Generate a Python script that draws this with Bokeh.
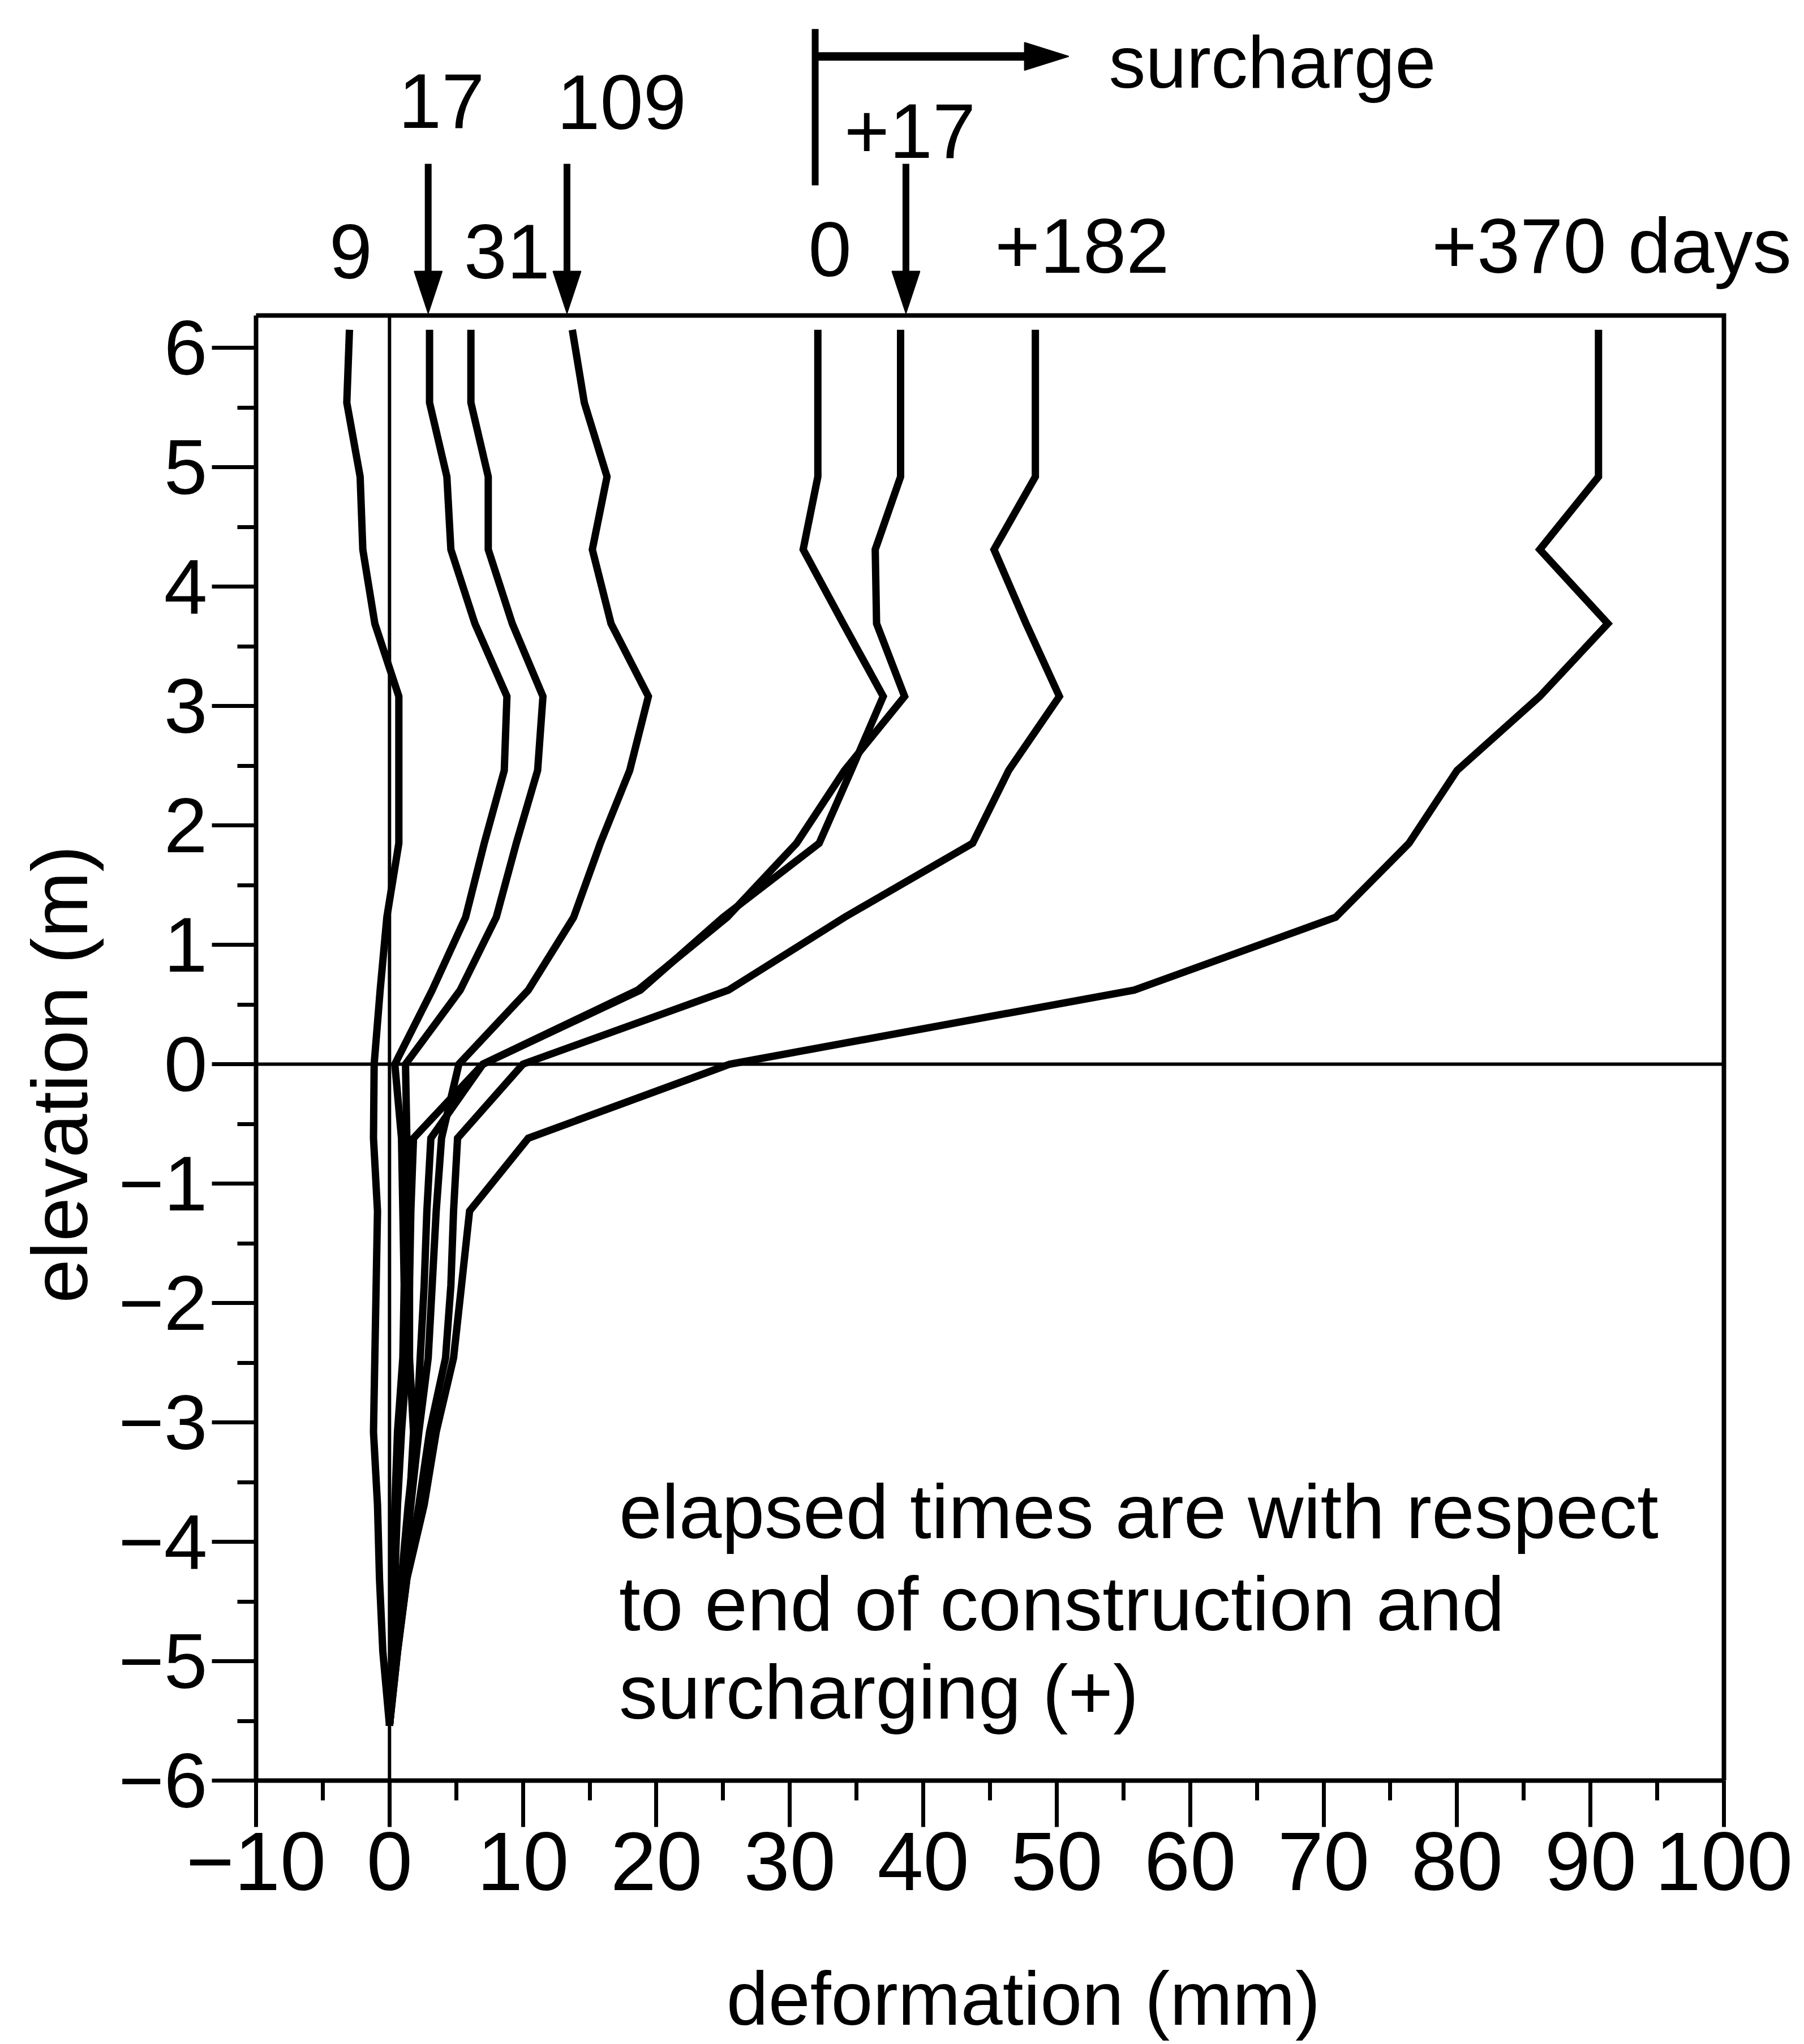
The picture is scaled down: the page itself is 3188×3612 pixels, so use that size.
import math
from bokeh.plotting import figure
from bokeh.layouts import column, row
from bokeh.models import Range1d, FixedTicker, Label
from bokeh.embed import file_html
from bokeh.resources import INLINE

FONT = "Liberation Sans"

# elevation of inclinometer readings (m)
elevation = [6.15, 5.54, 4.92, 4.31, 3.69, 3.08, 2.46, 1.85, 1.23, 0.62, 0.0,
             -0.62, -1.23, -1.85, -2.46, -3.08, -3.69, -4.31, -4.92, -5.54]

# deformation (mm) per elapsed time
def_9 = [-3.0, -3.2, -2.2, -2.0, -1.1, 0.7, 0.7, 0.7, -0.2, -0.7, -1.15,
         -1.2, -0.9, -1.0, -1.1, -1.2, -0.9, -0.75, -0.5, 0.0]
def_17 = [3.0, 3.0, 4.3, 4.6, 6.4, 8.8, 8.6, 7.1, 5.7, 3.2, 0.4,
          0.9, 1.0, 1.1, 1.0, 0.6, 0.4, 0.3, 0.2, 0.0]
def_31 = [6.1, 6.1, 7.4, 7.4, 9.2, 11.5, 11.1, 9.5, 8.0, 5.3, 1.2,
          1.3, 1.4, 1.5, 1.3, 0.9, 0.6, 0.4, 0.2, 0.0]
def_109 = [13.7, 14.6, 16.3, 15.2, 16.6, 19.4, 18.0, 15.8, 13.8, 10.4, 5.2,
           3.9, 3.5, 3.2, 2.9, 2.2, 1.6, 1.0, 0.5, 0.0]
def_s0 = [32.1, 32.1, 32.1, 31.0, 34.0, 37.0, 34.6, 32.2, 25.0, 18.8, 7.0,
          1.8, 1.6, 1.5, 1.5, 1.8, 1.5, 1.0, 0.5, 0.0]
def_s17 = [38.3, 38.3, 38.3, 36.4, 36.5, 38.6, 34.1, 30.5, 25.3, 18.6, 7.0,
           3.1, 2.8, 2.6, 2.3, 2.0, 1.4, 0.9, 0.4, 0.0]
def_s182 = [48.4, 48.4, 48.4, 45.3, 47.7, 50.2, 46.4, 43.7, 34.1, 25.4, 10.0,
            5.1, 4.8, 4.6, 4.2, 3.0, 2.2, 1.3, 0.6, 0.0]
def_s370 = [90.6, 90.6, 90.6, 86.2, 91.3, 86.2, 80.0, 76.4, 70.9, 55.8, 25.5,
            10.4, 6.0, 5.4, 4.8, 3.5, 2.6, 1.3, 0.6, 0.0]

series = [def_9, def_17, def_31, def_109, def_s0, def_s17, def_s182, def_s370]

# elapsed-time labels above the plot
time_labels = ["9", "17", "31", "109", "0", "+17", "+182", "+370 days"]
arrow_targets = [2.9, 13.3, 38.7]   # arrows pointing at the 17, 109 and +17 profiles

X_MIN, X_MAX = -10, 100
Y_MIN, Y_TOP = -6, 6.27
x_ticks = list(range(-10, 101, 10))
x_minor = list(range(-5, 100, 10))
y_ticks = list(range(-6, 7))
y_minor = [k + 0.5 for k in range(-6, 6)]

def fmt(v):
    return ("\u2212" + str(abs(v))) if v < 0 else str(v)

# page geometry (px)
W, H = 3188, 3612
FRAME_L, FRAME_R, FRAME_B = 452, 3046, 3146
PX_X = (FRAME_R - FRAME_L) / 110.0   # px per mm
PX_Y = 211.0                          # px per m
LEFT_W = 190
BOT_H = 186
MID_H = H - BOT_H
MAIN_BOTTOM = MID_H - FRAME_B
MID_FACTOR = 0.346   # label anchor sits this many ems above the baseline

def lab(fig, text, x, y, size, align="center", angle=0.0, scale=PX_Y):
    dy = MID_FACTOR * size / scale if angle == 0 else 0.0
    fig.add_layout(Label(x=x, y=y + dy, text=text, text_font=FONT,
                         text_font_size=f"{size}px", text_align=align,
                         text_baseline="alphabetic", text_color="black",
                         angle=angle))

def strip(width, height, xr, yr, bottom=0):
    f = figure(width=width, height=height, title=None, x_range=xr, y_range=yr,
               output_backend="svg", toolbar_location=None,
               min_border_left=0, min_border_right=0,
               min_border_top=0, min_border_bottom=bottom,
               x_axis_location=None, y_axis_location=None)
    f.outline_line_color = None
    f.xgrid.visible = False
    f.ygrid.visible = False
    f.background_fill_color = "white"
    f.border_fill_color = "white"
    return f

main_w = W - LEFT_W
frame_w = main_w - (FRAME_L - LEFT_W)
x_range = Range1d(X_MIN, X_MIN + frame_w / PX_X)
y_range = Range1d(Y_MIN, Y_MIN + FRAME_B / PX_Y)

# ---------------- main plot (frame reaches the page top; axes bounded) ----------------
p = figure(width=main_w, height=MID_H, title=None,
           x_range=x_range, y_range=y_range,
           output_backend="svg", toolbar_location=None,
           min_border_left=FRAME_L - LEFT_W, min_border_right=0,
           min_border_top=0, min_border_bottom=MAIN_BOTTOM)
p.xgrid.visible = False
p.ygrid.visible = False
p.background_fill_color = "white"
p.border_fill_color = "white"
p.outline_line_color = None

for ax, ticks, minor, out_major, out_minor, size, bounds in (
        (p.xaxis[0], x_ticks, x_minor, 82, 35, "146px", (X_MIN, X_MAX)),
        (p.yaxis[0], y_ticks, y_minor, 78, 33, "138px", (Y_MIN, Y_TOP))):
    ax.bounds = bounds
    ax.ticker = FixedTicker(ticks=ticks, minor_ticks=minor)
    ax.major_label_overrides = {t: fmt(t) for t in ticks}
    ax.major_tick_out = out_major
    ax.major_tick_in = 0
    ax.minor_tick_out = out_minor
    ax.minor_tick_in = 0
    ax.major_tick_line_width = 7
    ax.minor_tick_line_width = 7
    ax.major_tick_line_color = "black"
    ax.minor_tick_line_color = "black"
    ax.axis_line_width = 8
    ax.axis_line_color = "black"
    ax.major_label_text_font = FONT
    ax.major_label_text_font_size = size
    ax.major_label_text_color = "black"
p.xaxis.major_label_standoff = 10
p.yaxis.major_label_standoff = 8

# top and right edges of the plot box
ex, ey = 4 / PX_X, 4 / PX_Y
p.line([X_MIN - ex, X_MAX, X_MAX], [Y_TOP, Y_TOP, Y_MIN - ey],
       line_color="black", line_width=8, line_join="miter")

# reference lines at zero
p.line([0, 0], [Y_MIN, Y_TOP], line_color="black", line_width=6)
p.line([X_MIN, X_MAX], [0, 0], line_color="black", line_width=6)

for d in series:
    p.line(d, elevation, line_color="black", line_width=13, line_join="miter")

lab(p, "elapsed times are with respect", 17.2, -3.97, 136, align="left")
lab(p, "to end of construction and", 17.2, -4.74, 136, align="left")
lab(p, "surcharging (+)", 17.2, -5.48, 136, align="left")

# elapsed-time labels and arrows above the box
label_x = [-2.9, 3.9, 8.8, 17.4, 33.0, 39.0, 51.9, 78.1]
label_y = [6.58, 7.84, 6.58, 7.83, 6.60, 7.59, 6.63, 6.63]
for t, lx, ly in zip(time_labels, label_x, label_y):
    lab(p, t, lx, ly, 137, align="left" if t.endswith("days") else "center")
lab(p, "surcharge", 53.9, 8.18, 130, align="left")

tip = Y_TOP + 4 / PX_Y
head_len = 74 / PX_Y
head_half = 24.5 / PX_X
shaft_top = 7.54
p.segment(x0=arrow_targets, y0=[shaft_top] * 3, x1=arrow_targets,
          y1=[tip + head_len * 0.8] * 3, line_color="black", line_width=12)
p.patches(xs=[[x - head_half, x + head_half, x] for x in arrow_targets],
          ys=[[tip + head_len, tip + head_len, tip] for _ in arrow_targets],
          fill_color="black", line_color="black", line_width=2)

# surcharge bracket and arrow
sx, sy, send = 31.9, 8.44, 50.9
h_len = 78 / PX_X
h_half = 24.5 / PX_Y
p.segment(x0=[sx], y0=[7.36], x1=[sx], y1=[8.67], line_color="black", line_width=12)
p.segment(x0=[sx], y0=[sy], x1=[send - h_len * 0.8], y1=[sy], line_color="black", line_width=15)
p.patches(xs=[[send - h_len, send - h_len, send]], ys=[[sy + h_half, sy - h_half, sy]],
          fill_color="black", line_color="black", line_width=2)

# ---------------- left strip: y-axis title ----------------
left = strip(LEFT_W, MID_H, Range1d(0, LEFT_W), y_range, bottom=MAIN_BOTTOM)
lab(left, "elevation (m)", 153 - MID_FACTOR * 140, -0.085, 140, angle=math.pi / 2)

# ---------------- bottom strip: x-axis title ----------------
full_x = Range1d(X_MIN - FRAME_L / PX_X, X_MIN + (W - FRAME_L) / PX_X)
bottom = strip(W, BOT_H, full_x, Range1d(0, BOT_H))
lab(bottom, "deformation (mm)", 47.5, H - 3578, 133, scale=1.0)

layout = column(row(left, p, spacing=0), bottom, spacing=0)
open("out.html", "w").write(file_html(layout, INLINE))
